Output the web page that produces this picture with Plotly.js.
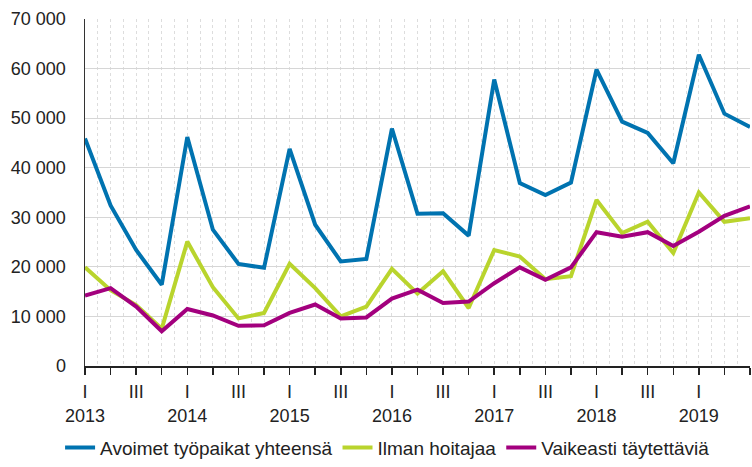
<!DOCTYPE html>
<html>
<head>
<meta charset="utf-8">
<script src="https://cdn.plot.ly/plotly-3.0.1.min.js"></script>
<style>html,body{margin:0;padding:0;background:#fff;}#chart{width:752px;height:467px;}</style>
</head>
<body>
<div id="chart"></div>
<script>
// Quarters 2013 Q1 .. 2019 Q3
const years = ['2013','2014','2015','2016','2017','2018','2019'];
const quarterLabels = ['I','','III',''];
const seriesNames = ['Avoimet työpaikat yhteensä','Ilman hoitajaa','Vaikeasti täytettäviä'];
const avoimet = [45900,32400,23400,16400,46200,27500,20600,19800,
                 43800,28500,21100,21600,47900,30700,30800,26300,
                 57800,36900,34500,37000,59800,49300,47000,40900,
                 62800,50900,48200];
const ilmanHoitajaa = [19900,15300,12300,7500,25100,15900,9600,10700,
                       20600,15700,10000,12000,19600,14600,19100,11700,
                       23400,22100,17500,18100,33500,26800,29100,22800,
                       35000,29100,29800];
const vaikeasti = [14200,15700,12000,7000,11500,10200,8100,8200,
                   10700,12400,9600,9800,13600,15400,12700,13000,
                   16700,19900,17400,19900,27000,26100,27000,24200,
                   27100,30300,32200];

const n = avoimet.length;
const xs = [], tickText = [];
for (let i = 0; i < n; i++) {
  xs.push(i);
  const q = quarterLabels[i % 4];
  tickText.push(i % 4 === 0 ? q + '<br>' + years[i / 4] : q);
}

const colors = ['rgb(0,115,176)','rgb(185,212,45)','rgb(163,0,126)'];
const data = [avoimet, ilmanHoitajaa, vaikeasti].map((ys, k) => ({
  x: xs, y: ys, type: 'scatter', mode: 'lines', name: seriesNames[k],
  line: {color: colors[k], width: 4}, hoverinfo: 'x+y'
}));

const layout = {
  width: 752, height: 467,
  margin: {l: 85, r: 2, t: 19, b: 100},
  paper_bgcolor: '#fff', plot_bgcolor: '#fff',
  separators: ', ',
  font: {family: 'Liberation Sans, Arial, sans-serif', size: 18, color: '#222'},
  showlegend: true,
  legend: {orientation: 'h', x: 0.455, xanchor: 'center', y: -0.232, yanchor: 'middle',
           font: {size: 19, color: '#222'}, tracegroupgap: 0},
  xaxis: {
    range: [0, n - 1], tickmode: 'array', tickvals: xs, ticktext: tickText,
    ticks: 'outside', ticklen: 7, tickwidth: 1.5, tickcolor: '#222',
    showline: true, linecolor: '#222', linewidth: 1.5,
    showgrid: true, gridcolor: '#dddddd', griddash: 'dot', gridwidth: 1,
    minor: {dtick: 0.5, tick0: 0, showgrid: true, gridcolor: '#dddddd', griddash: 'dot', gridwidth: 1, ticks: ''},
    zeroline: false, tickangle: 0, ticklabelstandoff: 2, automargin: false,
    tickfont: {size: 18, color: '#222'}
  },
  yaxis: {
    range: [0, 70000], dtick: 10000, tickformat: ',d', automargin: false,
    showline: true, linecolor: '#333', linewidth: 1.5,
    showgrid: true, gridcolor: '#d6d6d6', gridwidth: 1.2,
    zeroline: false, ticks: '', ticklabelstandoff: 14,
    tickfont: {size: 18, color: '#222'}
  }
};

Plotly.newPlot('chart', data, layout, {displayModeBar: false, staticPlot: true});
</script>
</body>
</html>
